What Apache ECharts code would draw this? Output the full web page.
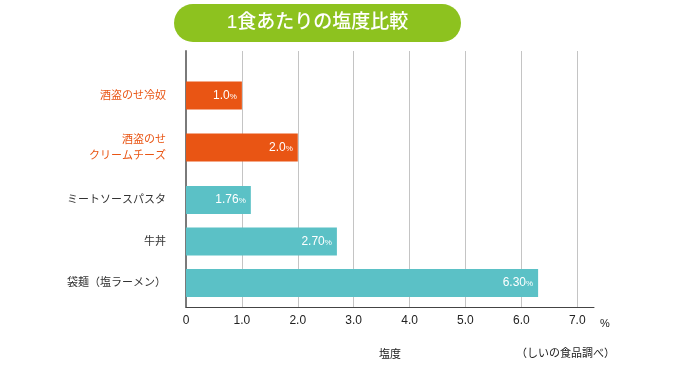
<!DOCTYPE html>
<html>
<head>
<meta charset="utf-8">
<script src="https://cdn.jsdelivr.net/npm/echarts@6/dist/echarts.min.js"></script>
<style>
html,body{margin:0;padding:0;background:#fff;}
#main{width:680px;height:365px;}
</style>
</head>
<body>
<div id="main"></div>
<script>
// --- data ---
const title = '1食あたりの塩度比較';
const featuredCategories = ['酒盗のせ冷奴', '酒盗のせ\nクリームチーズ'];
const featuredValues = [1.0, 2.0];
const featuredLabels = ['1.0', '2.0'];
const compareCategories = ['ミートソースパスタ', '牛丼', '袋麺（塩ラーメン）'];
const compareValues = [1.16, 2.70, 6.30];   // bar lengths as drawn in the picture
const compareLabels = ['1.76', '2.70', '6.30'];
const tickLabels = ['0', '1.0', '2.0', '3.0', '4.0', '5.0', '6.0', '7.0'];
const axisName = '塩度';
const unitText = '%';
const sourceText = '（しいの食品調べ）';

const FONT = '"Liberation Sans", "Noto Sans CJK JP", sans-serif';
const ORANGE = '#E95514';
const TEAL = '#5BC1C6';
const XMIN = 0, XMAX = 7.3;

const chart = echarts.init(document.getElementById('main'), null, {renderer: 'canvas'});

function hiddenX(gridIndex) {
  return {type: 'value', gridIndex, min: XMIN, max: XMAX, show: false};
}
function catY(gridIndex, data, color) {
  return {
    type: 'category', gridIndex, data, inverse: true,
    axisLine: {show: false}, axisTick: {show: false}, splitLine: {show: false},
    axisLabel: {margin: 20, color, fontSize: 11, lineHeight: 16, fontFamily: FONT, align: 'right'}
  };
}
function barLabel(labels) {
  return {
    show: true, position: 'insideRight', distance: 5,
    formatter: p => '{v|' + labels[p.dataIndex] + '}{u|%}',
    rich: {
      v: {color: '#fff', fontSize: 12, fontFamily: FONT},
      u: {color: '#fff', fontSize: 8, fontFamily: FONT, padding: [2, 0, 0, 0]}
    }
  };
}

const option = {
  animation: false,
  backgroundColor: '#fff',
  grid: [
    {left: 186, right: 86, top: 51, bottom: 54},
    {left: 186, right: 86, top: 69.5, height: 104},
    {left: 186, right: 86, top: 179.25, height: 124.5}
  ],
  xAxis: [
    {
      type: 'value', gridIndex: 0, min: XMIN, max: XMAX, interval: 1,
      name: axisName, nameLocation: 'middle', nameGap: 42,
      nameTextStyle: {color: '#222', fontSize: 11, fontFamily: FONT},
      axisLine: {show: true, lineStyle: {color: '#444', width: 1}},
      axisTick: {show: false},
      splitLine: {show: true, showMinLine: false, showMaxLine: false, lineStyle: {color: '#c4c4c4', width: 1}},
      axisLabel: {
        margin: 8, color: '#222', fontSize: 12, fontFamily: FONT, showMaxLabel: false,
        formatter: v => (Number.isInteger(v) && tickLabels[v] !== undefined) ? tickLabels[v] : ''
      }
    },
    hiddenX(1),
    hiddenX(2)
  ],
  yAxis: [
    {
      type: 'value', gridIndex: 0, min: 0, max: 1,
      axisLine: {show: true, lineStyle: {color: '#7a7a7a', width: 2}},
      axisTick: {show: false}, axisLabel: {show: false}, splitLine: {show: false}
    },
    catY(1, featuredCategories, ORANGE),
    catY(2, compareCategories, '#333')
  ],
  series: [
    {
      type: 'bar', xAxisIndex: 1, yAxisIndex: 1, data: featuredValues,
      barWidth: 28, itemStyle: {color: ORANGE}, label: barLabel(featuredLabels), z: 3
    },
    {
      type: 'bar', xAxisIndex: 2, yAxisIndex: 2, data: compareValues,
      barWidth: 28, itemStyle: {color: TEAL}, label: barLabel(compareLabels), z: 3
    }
  ],
  graphic: [
    {
      type: 'rect', left: 174, top: 4,
      shape: {width: 287, height: 38, r: 19},
      style: {fill: '#8DC21F'}
    },
    {
      type: 'text', x: 317.5, y: 23,
      style: {text: title, fill: '#fff', font: '500 19px ' + FONT, textAlign: 'center', textVerticalAlign: 'middle'}
    },
    {
      type: 'text', x: 605, y: 324,
      style: {text: unitText, fill: '#222', font: '11px ' + FONT, textAlign: 'center', textVerticalAlign: 'middle'}
    },
    {
      type: 'text', x: 615, y: 354,
      style: {text: sourceText, fill: '#222', font: '11px ' + FONT, textAlign: 'right', textVerticalAlign: 'middle'}
    }
  ]
};
chart.setOption(option);
</script>
</body>
</html>
